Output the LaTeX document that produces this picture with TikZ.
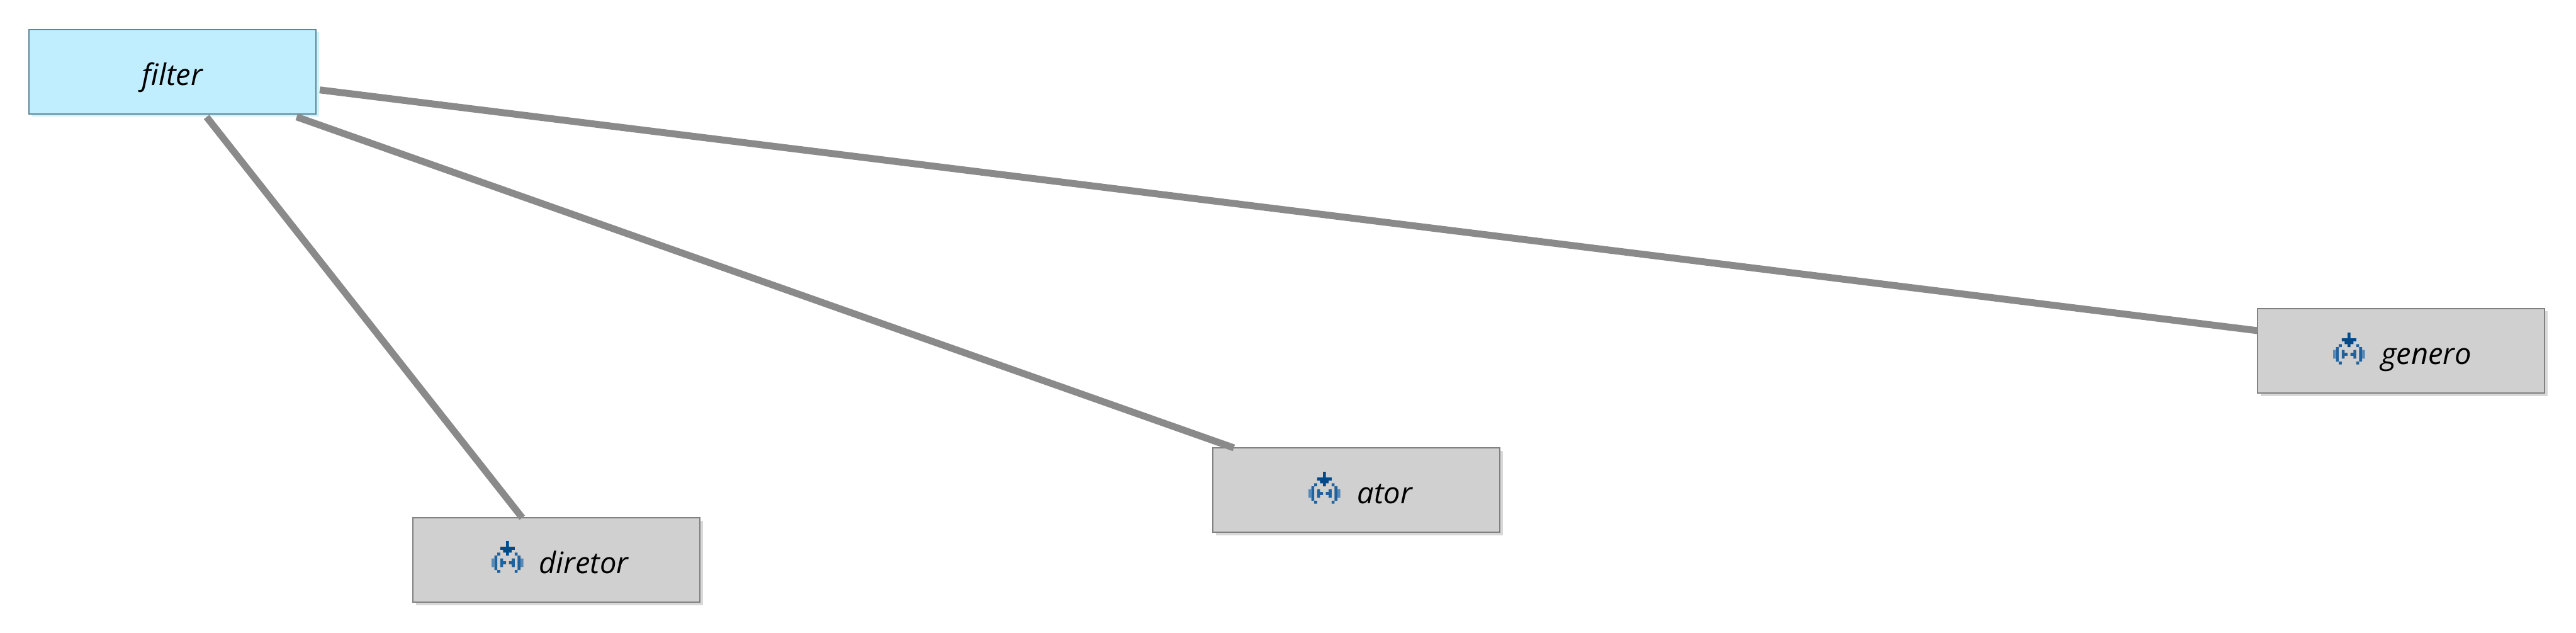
\documentclass[tikz,border=0pt]{standalone}
\usepackage{fontspec}
\setmainfont{Open Sans}
\usetikzlibrary{shadows}
\definecolor{FilterBg}{RGB}{192,238,255}
\definecolor{FilterLine}{RGB}{95,135,150}
\definecolor{FilterShade}{RGB}{205,243,255}
\definecolor{TableBg}{RGB}{208,208,208}
\definecolor{TableLine}{RGB}{128,128,128}
\definecolor{TableShade}{RGB}{216,216,216}
\definecolor{LinkGray}{RGB}{138,138,138}
\definecolor{IconDark}{RGB}{0,73,138}
\definecolor{IconMid}{RGB}{32,98,158}
\definecolor{IconLight}{RGB}{88,138,184}
\tikzset{
  tbox/.style={rectangle,draw=TableLine,fill=TableBg,line width=.012cm,outer sep=0pt,
               font=\fontsize{13.4}{16}\selectfont\itshape,text=black,
               minimum width=4.56cm,minimum height=1.34cm,inner sep=0pt,
               text height=.53cm,text depth=.1cm,
               drop shadow={shadow xshift=.045cm,shadow yshift=-.045cm,fill=TableShade,opacity=1}},
  tfilter/.style={tbox,draw=FilterLine,fill=FilterBg,
               drop shadow={shadow xshift=.045cm,shadow yshift=-.045cm,fill=FilterShade,opacity=1}},
  tlink/.style={draw=LinkGray,line width=.11cm},
  mergeicon/.pic={
    \fill[IconDark,x=.046cm,y=-.046cm] (5,0) rectangle (6,2) (3,2) rectangle (8,3)
      (4,3) rectangle (7,4) (5,4) rectangle (6,5);
    \fill[IconMid,x=.046cm,y=-.046cm] (2,4) rectangle (3,5) (1,5) rectangle (2,10) (2,10) rectangle (3,11)
      (8,4) rectangle (9,5) (9,5) rectangle (10,10) (8,10) rectangle (9,11)
      (3,6) rectangle (4,9) (4,7) rectangle (5,8) (7,6) rectangle (8,9) (6,7) rectangle (7,8);
    \fill[IconLight,x=.046cm,y=-.046cm] (0,6) rectangle (1,9) (10,6) rectangle (11,9);
  },
}
\begin{document}
\begin{tikzpicture}
  \useasboundingbox (0,0) rectangle (40.93,10.04);
  \node[tfilter] (filterbox) at (2.74,8.90) {filter};
  \node[tbox] (diretorbox) at (8.84,1.15) {\hspace*{.87cm}diretor};
  \node[tbox] (atorbox) at (21.55,2.26) {\hspace*{.9cm}ator};
  \node[tbox] (generobox) at (38.15,4.47) {\hspace*{.8cm}genero};
  \path (diretorbox.north west) ++(1.25,-.37) pic {mergeicon};
  \path (atorbox.north west) ++(1.52,-.38) pic {mergeicon};
  \path (generobox.north west) ++(1.20,-.38) pic {mergeicon};
  % links leave the filter a little off its border
  \draw[tlink,shorten <=.06cm] (filterbox.-53.3) -- (diretorbox.129.4);
  \draw[tlink,shorten <=.14cm] (filterbox.-20.1) -- (atorbox.161.1);
  \draw[tlink,shorten <=.06cm] (filterbox.-7.25) -- (generobox.172);
\end{tikzpicture}
\end{document}
